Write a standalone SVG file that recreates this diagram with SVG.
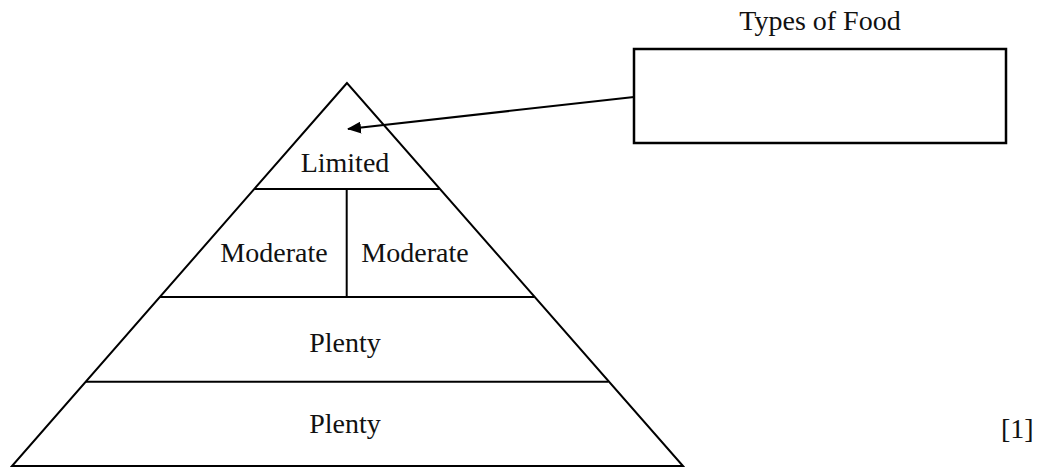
<svg xmlns="http://www.w3.org/2000/svg" width="1041" height="468" viewBox="0 0 1041 468">
<style>
.ln{stroke:#000;stroke-width:2;fill:none}
.t{font-family:"Liberation Serif","Times New Roman",serif;font-size:28px;fill:#111;text-anchor:middle}
</style>
<defs>
<marker id="ah" markerWidth="14" markerHeight="12" refX="13" refY="6" orient="auto" markerUnits="userSpaceOnUse">
<path d="M0,0 L14,6 L0,12 Z" fill="#000"/>
</marker>
</defs>
<rect width="1041" height="468" fill="#fff"/>
<g id="pyramid">
<path class="ln" d="M347,83 L12,466 L683,466 Z"/>
</g>
<g id="limited">
<line class="ln" x1="254.5" y1="189" x2="439.5" y2="189"/>
<text class="t" x="345" y="172">Limited</text>
</g>
<g id="moderate-left">
<line class="ln" x1="160" y1="297" x2="534" y2="297"/>
<line class="ln" x1="346.7" y1="189" x2="346.7" y2="297"/>
<text class="t" x="274" y="262">Moderate</text>
</g>
<g id="moderate-right">
<text class="t" x="415" y="262">Moderate</text>
</g>
<g id="plenty-top">
<line class="ln" x1="86" y1="381.7" x2="608.5" y2="381.7"/>
<text class="t" x="345" y="352">Plenty</text>
</g>
<g id="plenty-bottom">
<text class="t" x="345" y="433">Plenty</text>
</g>
<g id="types-box">
<text class="t" x="820" y="30">Types of Food</text>
<rect x="634" y="49" width="372" height="94" fill="none" stroke="#000" stroke-width="2.5"/>
</g>
<g id="connectors">
<line class="ln" x1="634" y1="97" x2="348" y2="129" marker-end="url(#ah)"/>
</g>
<text class="t" x="1001" y="438" style="text-anchor:start">[1]</text>
</svg>
